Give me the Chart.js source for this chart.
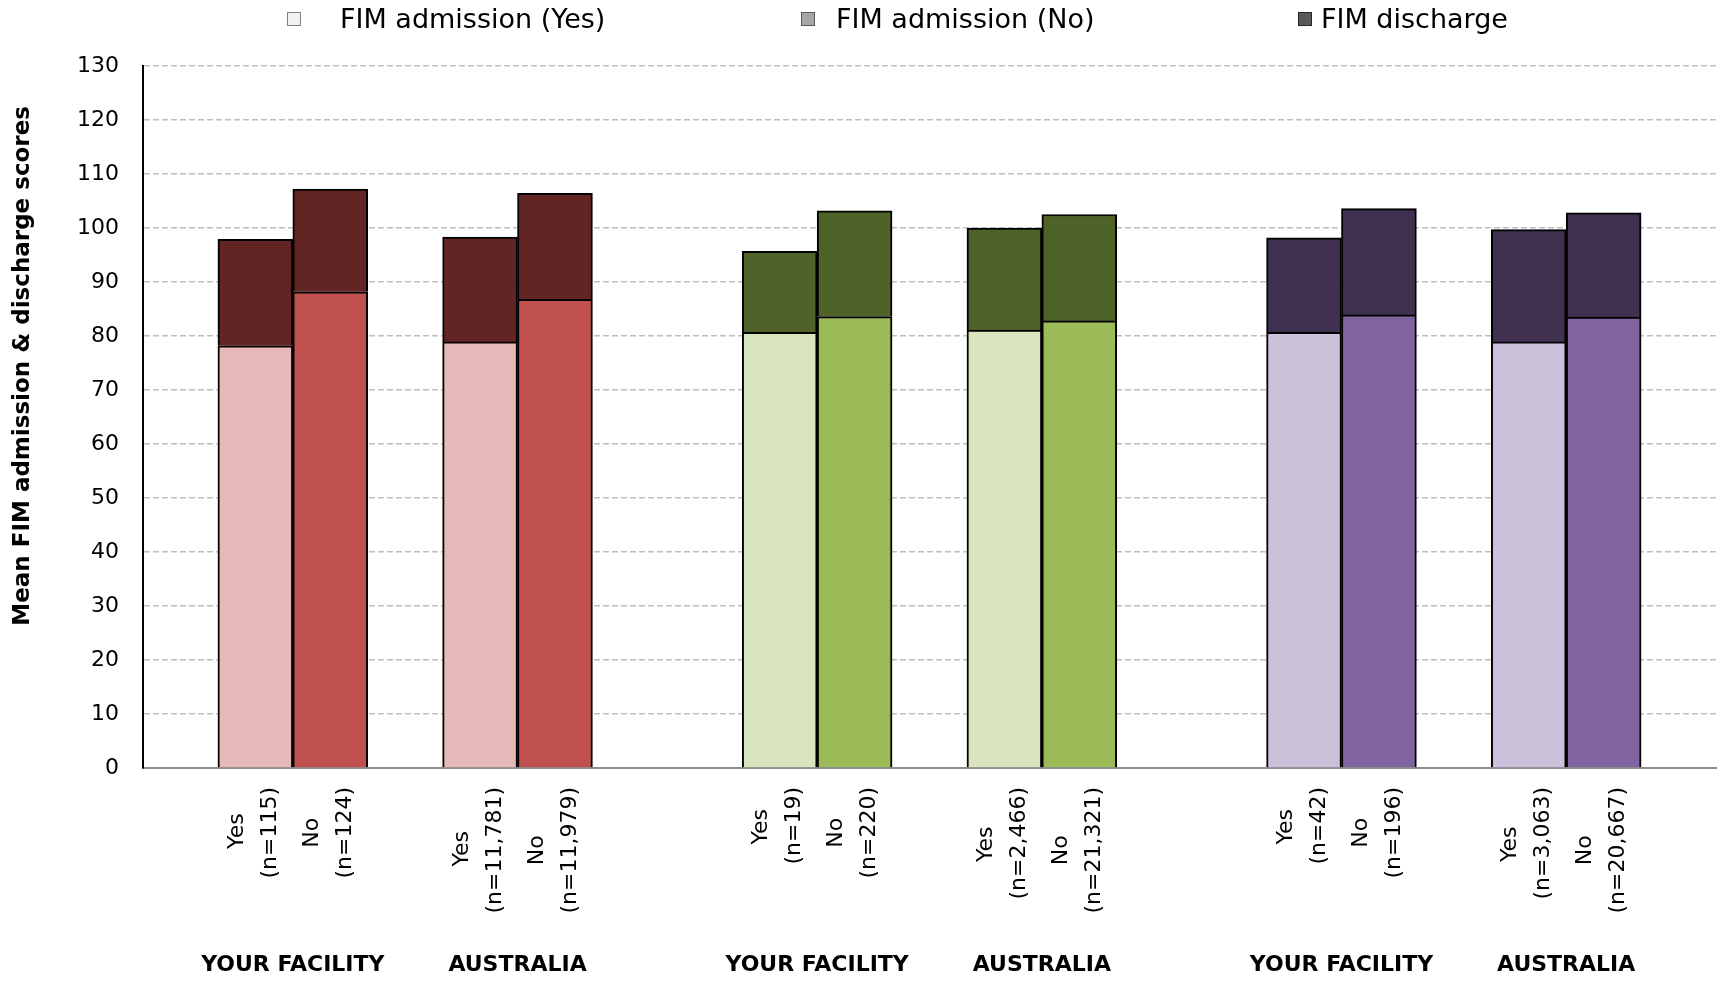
<!DOCTYPE html>
<html>
<head>
<meta charset="utf-8">
<script src="https://cdn.jsdelivr.net/npm/chart.js@4.4.1/dist/chart.umd.min.js"></script>
<style>
    html, body { margin: 0; padding: 0; background: #fff; }
    #wrap { width: 1720px; height: 981px; position: relative; }
</style>
</head>
<body>
<div id="wrap"><canvas id="fimChart"></canvas></div>
<script>
const groups = ["YOUR FACILITY", "AUSTRALIA", "YOUR FACILITY", "AUSTRALIA", "YOUR FACILITY", "AUSTRALIA"];
const yesCounts = ["115", "11,781", "19", "2,466", "42", "3,063"];
const noCounts = ["124", "11,979", "220", "21,321", "196", "20,667"];

const admissionYes = [78.2, 78.9, 80.7, 81.1, 80.7, 78.9];
const dischargeYes = [97.9, 98.3, 95.7, 100.0, 98.2, 99.7];
const admissionNo = [88.2, 86.8, 83.6, 82.8, 83.9, 83.5];
const dischargeNo = [107.2, 106.4, 103.2, 102.5, 103.6, 102.8];

const yMin = 0, yMax = 130, yStep = 10;

const lightColors = ["#E6B8B7", "#D7E4BD", "#CCC1DA"];
const midColors = ["#C0504D", "#9BBB59", "#8064A2"];
const darkColors = ["#632523", "#4F6228", "#403151"];

const legendNames = ["FIM admission (Yes)", "FIM admission (No)", "FIM discharge"];
const legendFills = ["#F2F2F2", "#A6A6A6", "#595959"];
const legendStrokes = ["#7F7F7F", "#595959", "#262626"];

const FONT = "'DejaVu Sans', sans-serif";

// one slot per bar, with empty slots as gaps between pairs and colour sections
const labels = [], sectionOf = [], admYesData = [], admNoData = [], dischargeData = [], groupCentres = [];
function pushSlot(label, section, yes, no, dis) {
    labels.push(label);
    sectionOf.push(section);
    admYesData.push(yes);
    admNoData.push(no);
    dischargeData.push(dis);
}
pushSlot("", 0, null, null, null);
groups.forEach((g, i) => {
    const section = Math.floor(i / 2);
    if (i > 0) pushSlot("", section, null, null, null);
    if (i > 0 && i % 2 === 0) pushSlot("", section, null, null, null);
    groupCentres.push(labels.length + 1);
    pushSlot(["Yes", "(n=" + yesCounts[i] + ")"], section, admissionYes[i], null, [admissionYes[i], dischargeYes[i]]);
    pushSlot(["No", "(n=" + noCounts[i] + ")"], section, null, admissionNo[i], [admissionNo[i], dischargeNo[i]]);
});
pushSlot("", 2, null, null, null);

// pad the shorter line so the rotated lines sit centred on each other
const measure = document.createElement("canvas").getContext("2d");
measure.font = "22px " + FONT;
function centreLines(lines) {
    if (!Array.isArray(lines)) return lines;
    const widths = lines.map(l => measure.measureText(l).width);
    const widest = Math.max(...widths);
    const sp = measure.measureText("\u2009").width;
    return lines.map((l, i) => l + "\u2009".repeat(Math.round((widest - widths[i]) / 2 / sp)));
}

const legendPlugin = {
    id: "fimLegend",
    afterDraw(chart) {
        const ctx = chart.ctx;
        const boxX = [287, 801, 1298];
        const textX = [340, 836, 1321];
        ctx.save();
        ctx.font = "27px " + FONT;
        ctx.textBaseline = "middle";
        legendNames.forEach((name, i) => {
            ctx.fillStyle = legendFills[i];
            ctx.strokeStyle = legendStrokes[i];
            ctx.lineWidth = 1;
            ctx.fillRect(boxX[i], 12, 14, 14);
            ctx.strokeRect(boxX[i] + 0.5, 12.5, 13, 13);
            ctx.fillStyle = "#000";
            ctx.fillText(name, textX[i], 21);
        });
        ctx.restore();
    }
};

const barBase = {
    borderColor: "#000",
    borderWidth: 2,
    barPercentage: 1,
    categoryPercentage: 1
};

new Chart(document.getElementById("fimChart"), {
    type: "bar",
    data: {
        labels: labels,
        datasets: [
            Object.assign({
                label: legendNames[0],
                data: admYesData,
                backgroundColor: c => lightColors[sectionOf[c.dataIndex]]
            }, barBase),
            Object.assign({
                label: legendNames[1],
                data: admNoData,
                backgroundColor: c => midColors[sectionOf[c.dataIndex]]
            }, barBase),
            Object.assign({
                label: legendNames[2],
                data: dischargeData,
                borderSkipped: "start",
                backgroundColor: c => darkColors[sectionOf[c.dataIndex]]
            }, barBase)
        ]
    },
    options: {
        responsive: true,
        maintainAspectRatio: false,
        animation: false,
        layout: { padding: { top: 66, right: 4, left: 0, bottom: 0 } },
        plugins: {
            legend: { display: false },
            tooltip: { enabled: false }
        },
        scales: {
            x: {
                type: "category",
                stacked: true,
                offset: true,
                grid: { display: false },
                border: { display: true, color: "#8C8C8C", width: 2 },
                ticks: {
                    autoSkip: false,
                    maxRotation: 90,
                    minRotation: 90,
                    padding: 11,
                    labelOffset: -18,
                    color: "#000",
                    font: { family: FONT, size: 22, lineHeight: 1.5 },
                    callback: (v, i) => centreLines(labels[i])
                },
                afterFit: s => { s.height = 175; s.paddingLeft = 0; s.paddingRight = 0; }
            },
            x2: {
                type: "linear",
                position: "bottom",
                min: 0,
                max: labels.length,
                offset: false,
                grid: { display: false },
                border: { display: false },
                afterBuildTicks: s => { s.ticks = groupCentres.map(v => ({ value: v })); },
                ticks: {
                    autoSkip: false,
                    maxRotation: 0,
                    padding: 1,
                    color: "#000",
                    font: { family: FONT, size: 22, weight: "bold" },
                    callback: v => groups[groupCentres.indexOf(v)]
                },
                afterFit: s => { s.height = 38; s.paddingLeft = 0; s.paddingRight = 0; }
            },
            y: {
                min: yMin,
                max: yMax,
                ticks: {
                    stepSize: yStep,
                    padding: 24,
                    color: "#000",
                    font: { family: FONT, size: 22 }
                },
                grid: { color: "#BFBFBF", lineWidth: 1.5, drawTicks: false },
                border: { display: true, color: "#000", width: 2, dash: [6, 3] },
                title: {
                    display: true,
                    align: "end",
                    text: "Mean FIM admission & discharge scores     ",
                    color: "#000",
                    font: { family: FONT, size: 23, weight: "bold" },
                    padding: { top: 9, bottom: 0 }
                },
                afterFit: s => { s.width = 143; }
            }
        }
    },
    plugins: [legendPlugin]
});
</script>
</body>
</html>
